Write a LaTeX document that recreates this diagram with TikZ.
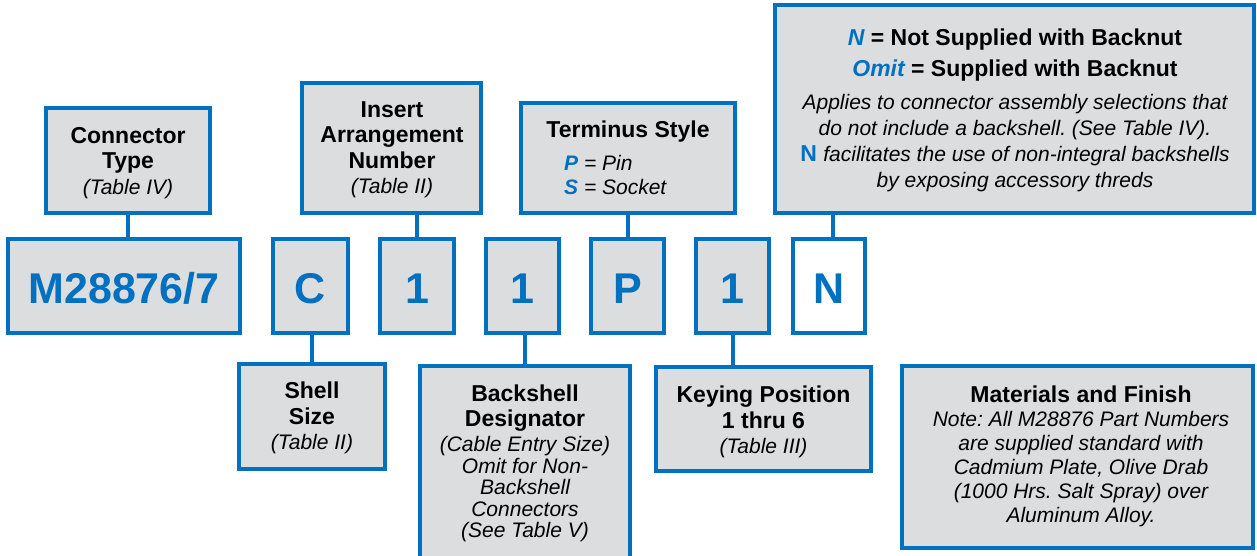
\documentclass[tikz,border=0pt]{standalone}
\usepackage{fontspec}
\setmainfont{Liberation Sans}
\frenchspacing
\definecolor{mblue}{RGB}{0,112,192}
\definecolor{mgray}{RGB}{220,221,223}
\newcommand{\ital}[1]{{\fontsize{21}{25.5}\selectfont\mdseries\itshape #1}}
\newcommand{\bluei}[1]{{\color{mblue}\bfseries\itshape #1}}
\tikzset{
  box/.style={draw=mblue, line width=4pt, fill=mgray, inner sep=0pt, rectangle},
  wbox/.style={box, fill=white},
  letter/.style={box, minimum height=94pt, text height=34pt, text depth=0pt,
    font=\fontsize{43}{43}\selectfont\bfseries, text=mblue},
  txt/.style={font=\fontsize{23}{25.5}\selectfont\bfseries, align=center, inner sep=0pt, anchor=north},
  link/.style={draw=mblue, line width=4pt},
}
\begin{document}
\begin{tikzpicture}[x=1pt, y=-1pt]
\useasboundingbox (0,0) rectangle (1257,556);

% main row
\node[letter, minimum width=232pt] (m) at (124,286) {M28876/7};
\node[letter, minimum width=75pt] (c) at (310.5,286) {C};
\node[letter, minimum width=74pt] (ia) at (417,286) {1};
\node[letter, minimum width=73pt] (ib) at (522.5,286) {1};
\node[letter, minimum width=73pt] (p) at (627.5,286) {P};
\node[letter, minimum width=73pt] (ic) at (732.5,286) {1};
\node[letter, fill=white, minimum width=72pt] (n) at (829,286) {N};

% top boxes
\node[box, minimum width=164pt, minimum height=105pt] (ct) at (128,160.5) {};
\node[box, minimum width=179pt, minimum height=130pt] (ins) at (391.5,148) {};
\node[box, minimum width=214pt, minimum height=110pt] (term) at (628,158) {};
\node[box, minimum width=479pt, minimum height=208pt] (nb) at (1014.5,109) {};

% bottom boxes
\node[box, minimum width=146pt, minimum height=105pt] (shell) at (312,416.5) {};
\node[box, minimum width=210pt, minimum height=220pt] (bs) at (525,476) {};
\node[box, minimum width=215pt, minimum height=104pt] (key) at (763.5,419) {};
\node[box, minimum width=351pt, minimum height=182pt] (mat) at (1077.5,457) {};

% connectors
\draw[link] (ct.south) -- (ct.south |- m.north);
\draw[link] (ia.north) -- (ia.north |- ins.south);
\draw[link] (term.south) -- (term.south |- p.north);
\draw[link] ([xshift=4pt]n.north) -- ([xshift=4pt]n.north |- nb.south);
\draw[link] (shell.north) -- (shell.north |- c.south);
\draw[link] (bs.north) -- (bs.north |- ib.south);
\draw[link] (ic.south) -- (ic.south |- key.north);

% texts
\node[txt] (tct) at (128,127) {Connector\\Type\\\ital{(Table IV)}};
\node[txt] (tins) at (392,101) {Insert\\Arrangement\\Number\\\ital{(Table II)}};
\node[txt] (tterm) at (628,121) {Terminus Style};
\node[txt, anchor=north west, align=left, font=\fontsize{21}{24}\selectfont\itshape] (tps) at (564,155)
  {\bluei{P} = Pin\\\bluei{S} = Socket};
\node[txt, font=\fontsize{23}{26}\selectfont\bfseries] (tnb) at (1015,29)
  {\bluei{N} = Not Supplied with Backnut\\[5pt]
   \bluei{Omit} = Supplied with Backnut\\[7pt]
   \ital{Applies to connector assembly selections that}\\
   \ital{do not include a backshell. (See Table IV).}\\
   {\color{mblue}\bfseries N} \ital{facilitates the use of non-integral backshells}\\
   \ital{by exposing accessory threds}};
\node[txt] (tshell) at (312,382) {Shell\\Size\\\ital{(Table II)}};
\node[txt, font=\fontsize{23}{21.5}\selectfont\bfseries] (tbs) at (525,385)
  {Backshell\\[3.5pt]Designator\\[3.5pt]\ital{(Cable Entry Size)}\\\ital{Omit for Non-}\\\ital{Backshell}\\\ital{Connectors}\\\ital{(See Table V)}};
\node[txt] (tkey) at (763.5,386) {Keying Position\\1 thru 6\\\ital{(Table III)}};
\node[txt, font=\fontsize{23}{24}\selectfont\bfseries] (tmat) at (1081,386)
  {Materials and Finish\\\ital{Note: All M28876 Part Numbers}\\\ital{are supplied standard with}\\
   \ital{Cadmium Plate, Olive Drab}\\\ital{(1000 Hrs. Salt Spray) over}\\\ital{Aluminum Alloy.}};
\end{tikzpicture}
\end{document}
